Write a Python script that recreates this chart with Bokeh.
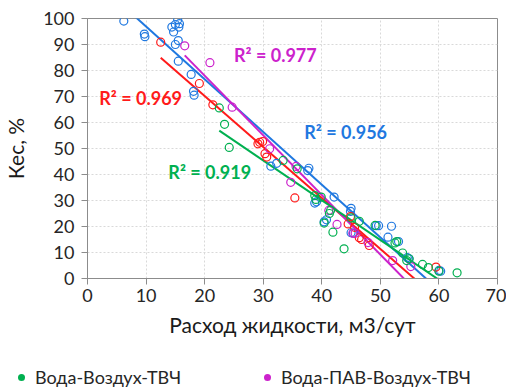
from bokeh.plotting import figure
from bokeh.layouts import column
from bokeh.models import Label, FixedTicker, Range1d, Div
from bokeh.embed import file_html
from bokeh.resources import INLINE

# ---- data ----
blue_x = [6.2, 9.7, 9.8, 14.4, 14.7, 15.0, 15.4, 15.6, 15.7, 15.0, 15.5, 15.5, 17.7, 18.1, 18.2,
          31.3, 32.3, 37.8, 37.6, 38.8, 39.1, 42.1, 40.8, 40.4, 45.0, 44.9, 45.0, 45.4,
          49.3, 49.7, 51.9, 51.3, 53.1, 54.6, 54.9, 60.0, 60.3]
blue_y = [99.0, 94.0, 93.0, 96.7, 94.8, 97.7, 99.5, 96.7, 98.0, 90.0, 91.5, 83.6, 78.5, 72.0, 70.5,
          43.2, 44.3, 42.4, 41.5, 29.0, 29.5, 31.3, 22.6, 21.8, 27.0, 25.8, 17.6, 17.4,
          20.3, 20.3, 20.1, 15.9, 14.2, 8.0, 7.6, 3.1, 2.8]

red_x = [12.5, 19.1, 21.4, 29.1, 29.4, 29.9, 30.3, 30.6, 35.4, 44.5, 44.9, 45.6, 46.4, 46.8, 48.1, 59.5]
red_y = [90.9, 75.0, 66.8, 51.8, 52.4, 52.7, 48.0, 46.7, 31.0, 21.0, 23.8, 19.7, 15.7, 15.0, 12.7, 4.4]

mag_x = [16.6, 20.9, 24.7, 31.1, 34.7, 35.6, 41.2, 42.6, 45.3, 45.7, 47.9, 52.1, 55.2]
mag_y = [89.5, 83.0, 65.9, 49.9, 37.0, 43.1, 26.2, 20.8, 17.4, 17.4, 13.8, 6.9, 4.6]

green_x = [22.5, 23.4, 24.2, 33.4, 35.8, 38.8, 39.0, 39.9, 41.5, 41.3, 40.4, 41.9, 43.8, 45.0,
           46.4, 49.1, 52.5, 52.8, 53.8, 54.5, 54.9, 57.2, 58.2, 60.0, 63.1]
green_y = [65.6, 59.3, 50.4, 45.4, 42.2, 31.9, 30.4, 31.3, 26.2, 25.0, 21.3, 17.8, 11.4, 23.3,
           22.0, 20.4, 13.7, 14.2, 9.8, 6.9, 7.6, 5.4, 4.2, 2.8, 2.2]

# linear trend lines as drawn in the reference (slope, intercept): blue, red, magenta, green
trend_slope = [-2.028, -1.961, -2.294, -1.530]
trend_intercept = [117.2, 109.4, 123.9, 91.3]

r2_texts = ["R² = 0.956", "R² = 0.969", "R² = 0.977", "R² = 0.919"]
x_ticks = [0, 10, 20, 30, 40, 50, 60, 70]
y_ticks = [0, 10, 20, 30, 40, 50, 60, 70, 80, 90, 100]
legend_labels = ["Вода-Воздух-ТВЧ", "Вода-ПАВ-Воздух-ТВЧ"]

BLUE = "#1F78E0"
RED = "#FF1A1A"
MAG = "#CC22CC"
GREEN = "#00B050"
FONT = "Lato"

p = figure(width=506, height=362, output_backend="svg", toolbar_location=None,
           x_range=Range1d(0, 70), y_range=Range1d(0, 100),
           min_border_left=85, min_border_right=9, min_border_top=18, min_border_bottom=84)
p.background_fill_color = "white"
p.border_fill_color = "white"
p.outline_line_color = "#8C8C8C"
p.outline_line_width = 1

for ax in (p.xaxis[0], p.yaxis[0]):
    ax.axis_line_color = "#8C8C8C"
    ax.major_tick_line_color = "#8C8C8C"
    ax.major_tick_out = 6
    ax.major_tick_in = 0
    ax.minor_tick_line_color = None
    ax.major_label_text_font = FONT
    ax.major_label_text_font_size = "18px"
    ax.major_label_text_color = "#262626"
    ax.axis_label_text_font = FONT
    ax.axis_label_text_font_size = "21px"
    ax.axis_label_text_font_style = "normal"
    ax.axis_label_text_color = "#1a1a1a"

p.xaxis.ticker = FixedTicker(ticks=x_ticks)
p.yaxis.ticker = FixedTicker(ticks=y_ticks)
p.xaxis.major_label_standoff = 4
p.yaxis.major_label_standoff = 7
p.xaxis.axis_label = "Расход жидкости, м3/сут"
p.yaxis.axis_label = "Кес, %"
p.xaxis.axis_label_standoff = 7
p.yaxis.axis_label_standoff = 12

p.xgrid.grid_line_color = "#D9D9D9"
p.ygrid.grid_line_color = "#D9D9D9"
p.xgrid.grid_line_dash = "2 2"
p.ygrid.grid_line_dash = "2 2"

series = [(blue_x, blue_y, BLUE), (red_x, red_y, RED), (mag_x, mag_y, MAG), (green_x, green_y, GREEN)]
for i, (xs, ys, c) in enumerate(series):
    k, b = trend_slope[i], trend_intercept[i]
    lx = [min(xs), max(xs)]
    p.line(lx, [k * lx[0] + b, k * lx[1] + b], line_color=c, line_width=2)

for xs, ys, c in series:
    p.scatter(xs, ys, marker="circle", size=8, fill_color=None, line_color=c, line_width=1.2)

label_specs = [(37.0, 56.5, BLUE, r2_texts[0]), (2.0, 69.6, RED, r2_texts[1]),
               (25.0, 85.8, MAG, r2_texts[2]), (13.8, 40.8, GREEN, r2_texts[3])]
for lx, ly, c, t in label_specs:
    p.add_layout(Label(x=lx, y=ly, text=t, text_color=c, text_font=FONT, text_font_style="bold",
                       text_font_size="18px", text_baseline="middle", text_align="left"))

# legend strip (only the first legend row is visible in the reference)
legend_colors = [GREEN, MAG]
legend_lefts = [18, 264]
items_html = ""
for lab, col, left in zip(legend_labels, legend_colors, legend_lefts):
    items_html += (
        f'<div style="position:absolute;left:{left}px;top:5px;white-space:nowrap;'
        f'font-family:Lato;font-size:18px;line-height:20px;color:#262626;">'
        f'<span style="display:inline-block;width:7px;height:7px;border-radius:50%;'
        f'background:{col};margin-right:10px;vertical-align:middle;position:relative;top:-2px;"></span>'
        f'{lab}</div>'
    )
legend_div = Div(text=f'<div style="position:relative;width:506px;height:26px;">{items_html}</div>',
                 width=506, height=26, margin=0, styles={"overflow": "hidden", "background": "white"})

layout = column(p, legend_div, spacing=0)
open("out.html", "w").write(file_html(layout, INLINE))
